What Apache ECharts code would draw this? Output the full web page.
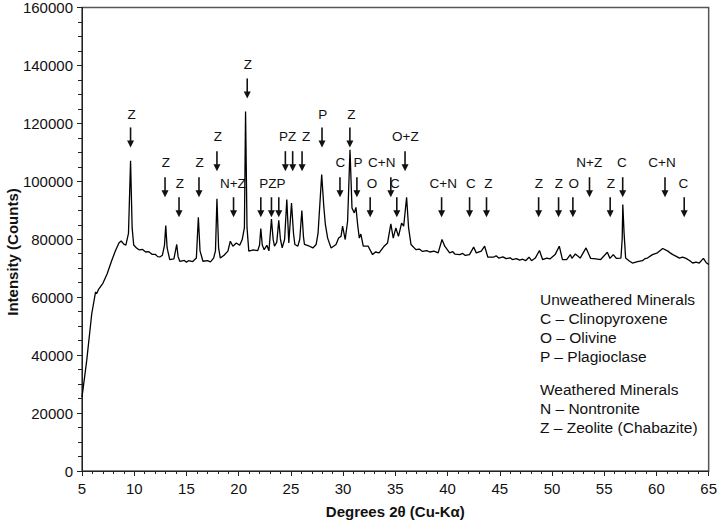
<!DOCTYPE html>
<html>
<head>
<meta charset="utf-8">
<script src="https://cdn.jsdelivr.net/npm/echarts@6/dist/echarts.min.js"></script>
<style>
  html, body { margin: 0; padding: 0; background: #fff; }
  #chart { width: 720px; height: 525px; }
</style>
</head>
<body>
<div id="chart"></div>
<script>
// XRD pattern: [2theta, counts]
const pattern = [
  [5.0, 25500], [5.45, 38100], [5.93, 54200], [6.3, 61800], [6.4, 61200], [6.6, 62800],
  [7.0, 64800], [7.4, 68000], [7.83, 72500], [8.2, 76000], [8.55, 78800], [8.75, 79400],
  [9.0, 78300], [9.2, 78000], [9.45, 82000], [9.65, 107100], [9.8, 84000], [9.95, 78000],
  [10.22, 77000], [10.5, 76300], [10.8, 76500], [11.1, 75600], [11.4, 75700], [11.7, 74800],
  [12.0, 74800], [12.25, 74000], [12.45, 73900], [12.7, 74500],
  [12.9, 78000], [13.02, 84700], [13.15, 77000], [13.4, 73000], [13.8, 73200], [14.07, 78200],
  [14.2, 74000], [14.36, 72400], [14.8, 72700], [15.0, 72100], [15.2, 72600], [15.6, 72300], [15.95, 73500],
  [16.14, 87600], [16.3, 76000], [16.58, 72400], [17.0, 72600], [17.3, 72200], [17.6, 73500], [17.78, 76000],
  [17.92, 94000], [18.08, 77000], [18.24, 73500], [18.6, 74500], [18.97, 75900], [19.2, 79300],
  [19.45, 77600], [19.77, 78700], [20.1, 77900], [20.34, 79900], [20.55, 84000], [20.66, 124100],
  [20.8, 84000], [20.97, 75900], [21.4, 76300], [21.83, 76100], [22.0, 78000], [22.12, 83700],
  [22.26, 78000], [22.44, 76400], [22.7, 77900], [22.9, 76000], [23.14, 87000], [23.3, 80000],
  [23.43, 77600], [23.65, 79000], [23.84, 86500], [24.0, 80000], [24.17, 77000], [24.4, 80000],
  [24.61, 93700], [24.8, 78700], [25.06, 92500], [25.25, 82000], [25.38, 78200], [25.67, 77600],
  [25.85, 80000], [26.05, 89900], [26.2, 81000], [26.3, 78200], [26.78, 77600], [27.1, 77000],
  [27.42, 78200], [27.6, 82000], [27.73, 89600], [27.95, 102300], [28.15, 91400], [28.3, 85100],
  [28.52, 80400], [28.85, 77000], [29.32, 78200], [29.57, 80400], [29.8, 81000], [29.95, 84500],
  [30.2, 79900], [30.43, 86200], [30.66, 110900], [30.85, 90800], [31.07, 89100], [31.23, 91000],
  [31.39, 85100], [31.55, 80400], [31.7, 81800], [31.93, 77600], [32.4, 77600], [32.82, 74700],
  [33.1, 75600], [33.45, 75300], [33.93, 77600], [34.25, 78700], [34.57, 85300], [34.8, 80400], [35.05, 83900],
  [35.3, 81000], [35.6, 85600], [35.8, 84500], [36.08, 94500], [36.27, 83900], [36.5, 78200],
  [36.97, 76400], [37.3, 76600], [37.6, 75800], [38.0, 76100], [38.3, 75600], [38.7, 75900], [39.1, 75300],
  [39.47, 79900], [39.73, 77600], [40.2, 75300], [40.5, 75700], [40.7, 74900], [41.16, 74700],
  [41.45, 75100], [41.7, 74400], [42.1, 74700], [42.5, 77300],
  [42.75, 75300], [43.23, 75900], [43.55, 77600], [43.86, 73800], [44.4, 73800], [44.65, 74300], [44.9, 73500],
  [45.3, 73900], [45.6, 73300], [46.0, 73600], [46.2, 73000], [46.6, 73300], [46.9, 72800], [47.2, 73100],
  [47.47, 72600], [47.8, 73800], [48.04, 72600],
  [48.4, 73500], [48.8, 76100], [49.1, 73000], [49.5, 73500], [49.8, 73200], [50.3, 74700], [50.7, 77600],
  [51.0, 73000], [51.4, 73000], [51.76, 74700], [51.9, 73400], [52.24, 74900], [52.7, 73500],
  [53.26, 77000], [53.7, 73400], [54.2, 73200], [54.66, 73000], [55.3, 75500], [55.55, 73400],
  [55.87, 74700], [56.16, 73400], [56.6, 73500], [56.72, 80000], [56.78, 92000], [56.9, 82200],
  [57.05, 73500], [57.4, 72500], [57.7, 71800], [58.2, 72300], [58.66, 72600], [58.9, 73300], [59.14, 73500],
  [59.62, 74700], [60.1, 75300], [60.6, 76800], [61.1, 75900], [61.35, 75200], [61.57, 74700], [61.9, 74100],
  [62.2, 73500], [62.5, 73800], [62.83, 73400], [63.2, 72600], [63.47, 71800], [63.8, 72100], [64.1, 71800],
  [64.5, 73400], [64.75, 72000], [65.0, 71300]
];

// arrow tips: [2theta, counts]
const arrows = [
  [9.65, 111700], [12.95, 94500], [14.29, 87600], [16.2, 94500], [17.92, 103500],
  [19.51, 87600], [20.82, 128600], [22.12, 87600], [23.14, 87600], [23.84, 87600],
  [24.47, 103500], [25.17, 103500], [26.07, 103500], [27.98, 111700], [29.7, 94500],
  [30.65, 111700], [31.32, 94500], [32.59, 87600], [34.57, 94500], [35.14, 87600],
  [35.93, 103500], [39.43, 87600], [42.11, 87600], [43.73, 87600], [48.72, 87600],
  [50.63, 87600], [52.0, 87600], [53.59, 94500], [55.57, 87600], [56.77, 94500],
  [60.82, 94500], [62.66, 87600]
];

// peak labels: text, 2theta, counts
const labelText = ['Z', 'Z', 'Z', 'Z', 'Z', 'N+Z', 'Z', 'PZP', 'PZ', 'Z', 'P', 'Z', 'C', 'P',
  'C+N', 'O', 'C', 'O+Z', 'C+N', 'C', 'Z', 'Z', 'Z', 'O', 'N+Z', 'Z', 'C', 'C+N', 'C'];
const labelX = [9.74, 13.02, 14.36, 16.26, 18.01, 19.44, 20.88, 23.23, 24.69, 26.46, 28.05, 30.78,
  29.75, 31.42, 33.7, 32.76, 34.96, 35.96, 39.59, 42.23, 43.92, 48.75, 50.66, 52.09, 53.57, 55.63,
  56.7, 60.53, 62.58];
const labelY = [123100, 106500, 99300, 106500, 115500, 99300, 140300, 99300, 115500, 115500, 123100,
  123100, 106500, 106500, 106500, 99300, 99300, 115500, 99300, 99300, 99300, 99300, 99300, 99300,
  106500, 99300, 106500, 106500, 99300];

const xTicks = { min: 5, max: 65, interval: 5 };
const yTicks = { min: 0, max: 160000, interval: 20000 };

const legendLines = [
  'Unweathered Minerals', 'C \u2013 Clinopyroxene', 'O \u2013 Olivine', 'P \u2013 Plagioclase',
  'Weathered Minerals', 'N \u2013 Nontronite', 'Z \u2013 Zeolite (Chabazite)'
];

const FONT = '"Liberation Sans", Arial, sans-serif';

const chart = echarts.init(document.getElementById('chart'), null, { renderer: 'svg' });

const legendY = [299, 318.5, 337.5, 356.5, 389, 408, 427];

chart.setOption({
  animation: false,
  grid: {
    left: 82, right: 9.5, top: 5.5, bottom: 54,
    show: true, borderColor: '#555', borderWidth: 1.5
  },
  xAxis: {
    type: 'value',
    min: xTicks.min, max: xTicks.max, interval: xTicks.interval,
    name: 'Degrees 2\u03b8 (Cu-K\u03b1)',
    nameLocation: 'middle', nameGap: 33,
    nameTextStyle: { fontFamily: FONT, fontSize: 15, fontWeight: 'bold', color: '#111' },
    axisLine: { show: true, onZero: false, lineStyle: { color: '#222', width: 1 } },
    axisTick: { show: true, length: 5, lineStyle: { color: '#222' } },
    minorTick: { show: true, splitNumber: 5, length: 3, lineStyle: { color: '#222' } },
    axisLabel: { fontFamily: FONT, fontSize: 15, color: '#111', margin: 10 },
    splitLine: { show: false }
  },
  yAxis: {
    type: 'value',
    min: yTicks.min, max: yTicks.max, interval: yTicks.interval,
    axisLine: { show: true, lineStyle: { color: '#222', width: 1 } },
    axisTick: { show: true, length: 5, lineStyle: { color: '#222' } },
    minorTick: { show: true, splitNumber: 4, length: 4, lineStyle: { color: '#222' } },
    axisLabel: { fontFamily: FONT, fontSize: 15, color: '#111', margin: 9,
      formatter: function (v) { return String(v); } },
    splitLine: { show: false }
  },
  graphic: [
    {
      type: 'text', x: 12, y: 252, rotation: Math.PI / 2,
      style: {
        text: 'Intensity (Counts)', font: 'bold 15px ' + FONT, fill: '#111',
        align: 'center', verticalAlign: 'middle'
      }
    }
  ].concat(legendLines.map((t, i) => ({
    type: 'text', x: 540, y: legendY[i],
    style: { text: t, font: '15.5px ' + FONT, fill: '#111', align: 'left', verticalAlign: 'middle' }
  }))),
  series: [
    {
      type: 'line',
      data: pattern,
      showSymbol: false,
      silent: true,
      lineStyle: { color: '#000', width: 1.3 }
    },
    {
      type: 'custom',
      silent: true,
      data: arrows,
      renderItem: function (params, api) {
        const p = api.coord([api.value(0), api.value(1)]);
        return {
          type: 'group',
          children: [
            { type: 'line', shape: { x1: p[0], y1: p[1] - 20, x2: p[0], y2: p[1] - 6 },
              style: { stroke: '#111', lineWidth: 1.6 } },
            { type: 'polygon', shape: { points: [[p[0] - 3.5, p[1] - 7], [p[0] + 3.5, p[1] - 7], [p[0], p[1]]] },
              style: { fill: '#111' } }
          ]
        };
      }
    },
    {
      type: 'custom',
      silent: true,
      data: labelX.map((x, i) => [x, labelY[i]]),
      renderItem: function (params, api) {
        const p = api.coord([api.value(0), api.value(1)]);
        return {
          type: 'text', x: p[0], y: p[1],
          style: { text: labelText[params.dataIndex], font: '13.5px ' + FONT, fill: '#111',
            align: 'center', verticalAlign: 'middle' }
        };
      }
    }
  ]
});
</script>
</body>
</html>
